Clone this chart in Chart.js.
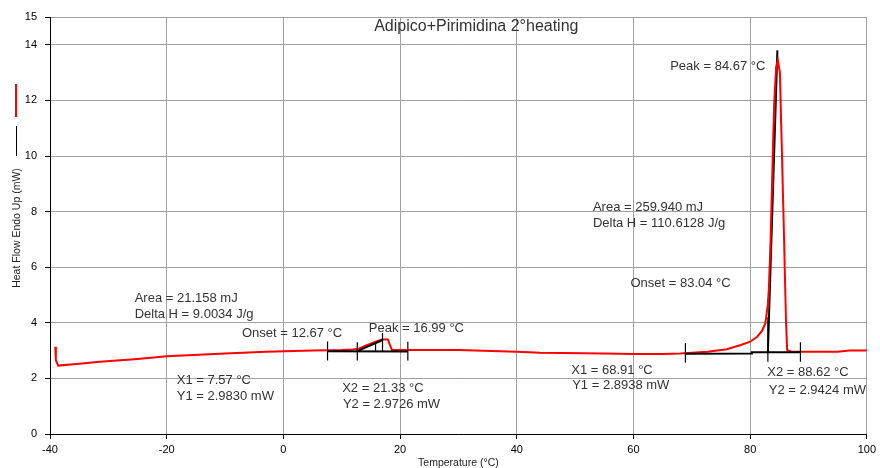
<!DOCTYPE html>
<html>
<head>
<meta charset="utf-8">
<script src="https://cdn.jsdelivr.net/npm/chart.js@4/dist/chart.umd.min.js"></script>
<style>
  body { margin: 0; background: #fff; }
  #wrap { width: 880px; height: 468px; }
</style>
</head>
<body>
<div id="wrap"><canvas id="myChart" width="880" height="468"></canvas></div>
<script>
// Heat flow curve (red), temperature in °C / heat flow in mW
const tempX = [-39.1, -39.0, -38.6, -35, -31.5, -25, -20, -10, -3, 5, 10, 12, 13, 14.1, 15.8, 16.9, 17.9, 18.6, 20, 30, 40, 44, 55, 60, 65, 68, 72.7, 76, 78.4, 80, 81.2, 82, 82.6, 83.0, 83.2, 83.5, 83.8, 84.1, 84.45, 84.75, 85.1, 85.4, 85.7, 85.95, 86.15, 86.35, 87, 95, 97, 100]
const heatY = [3.14, 2.66, 2.46, 2.53, 2.6, 2.7, 2.8, 2.9, 2.96, 3.0, 3.02, 3.04, 3.08, 3.18, 3.32, 3.4, 3.4, 3.02, 3.02, 3.02, 2.96, 2.92, 2.9, 2.88, 2.88, 2.9, 2.96, 3.05, 3.2, 3.32, 3.5, 3.7, 3.98, 4.6, 5.18, 6.98, 9.37, 11.8, 13.2, 13.45, 13.0, 10.5, 8.0, 5.8, 4.0, 3.02, 2.96, 2.96, 3.0, 3.0]

// Analysis lines (black): baselines, limit ticks, onset tangents
const baseSmall = [[7.57, 2.98], [21.33, 2.97]]
const tickSmallX1 = [[7.57, 3.33], [7.57, 2.64]]
const tickSmallX2 = [[21.33, 3.32], [21.33, 2.64]]
const tickSmallOnset = [[12.67, 3.3], [12.67, 2.64]]
const tangentSmall = [[12.67, 2.98], [16.99, 3.38]]
const markSmall1 = [[15.8, 2.98], [15.8, 3.3]]
const markSmallPeak = [[16.99, 2.98], [16.99, 3.63]]

const baseLarge = [[68.91, 2.89], [80.2, 2.9], [80.3, 2.94], [88.62, 2.94]]
const tickLargeX1 = [[68.91, 3.27], [68.91, 2.56]]
const tickLargeX2 = [[88.62, 3.3], [88.62, 2.6]]
const tickLargeOnset = [[83.04, 4.2], [83.04, 2.6]]
const tangentLarge = [[83.04, 2.93], [84.67, 13.8]]

// axis ticks
const xTicks = [-40, -20, 0, 20, 40, 60, 80, 100]
const yTicks = [0, 2, 4, 6, 8, 10, 12, 14, 15]

// text notes: [text, x (°C), y (mW)]
const notes = [
    ['Peak = 84.67 °C', 66.3, 13.21],
    ['Area = 259.940 mJ', 53.05, 8.15],
    ['Delta H = 110.6128 J/g', 53.05, 7.58],
    ['Onset = 83.04 °C', 59.49, 5.42],
    ['Area = 21.158 mJ', -25.49, 4.86],
    ['Delta H = 9.0034 J/g', -25.49, 4.31],
    ['Onset = 12.67 °C', -7.1, 3.62],
    ['Peak = 16.99 °C', 14.64, 3.81],
    ['X1 = 7.57 °C', -18.27, 1.94],
    ['Y1 = 2.9830 mW', -18.27, 1.34],
    ['X2 = 21.33 °C', 10.08, 1.64],
    ['Y2 = 2.9726 mW', 10.2, 1.07],
    ['X1 = 68.91 °C', 49.35, 2.28],
    ['Y1 = 2.8938 mW', 49.5, 1.73],
    ['X2 = 88.62 °C', 82.93, 2.21],
    ['Y2 = 2.9424 mW', 83.2, 1.58]
]
const chartTitle = 'Adipico+Pirimidina 2°heating'
const yTitle = 'Heat Flow Endo Up (mW)'
const xTitle = 'Temperature (°C)'

const FONT = '"Liberation Sans", Arial, sans-serif'

function toPoints(pairs) {
    return pairs.map(p => ({ x: p[0], y: p[1] }))
}

function blackLine(pairs, width, order) {
    return {
        data: toPoints(pairs),
        showLine: true,
        borderColor: '#000',
        borderWidth: width,
        pointRadius: 0,
        tension: 0,
        order: order
    }
}

const curve = tempX.map((t, i) => ({ x: t, y: heatY[i] }))

const datasets = [
    {
        data: curve,
        showLine: true,
        borderColor: '#ff0000',
        borderWidth: 2,
        pointRadius: 0,
        tension: 0,
        order: 1
    },
    blackLine(tangentLarge, 2, 2),
    blackLine(baseSmall, 2, 0),
    blackLine(tickSmallX1, 1.2, 0),
    blackLine(tickSmallX2, 1.2, 0),
    blackLine(tickSmallOnset, 1.2, 0),
    blackLine(tangentSmall, 2, 0),
    blackLine(markSmall1, 1.2, 0),
    blackLine(markSmallPeak, 1.2, 0),
    blackLine(baseLarge, 2, 0),
    blackLine(tickLargeX1, 1.2, 0),
    blackLine(tickLargeX2, 1.2, 0),
    blackLine(tickLargeOnset, 1.2, 0)
]

// titles, side legend marks and notes
const textPlugin = {
    id: 'texts',
    afterDatasetsDraw(chart) {
        const ctx = chart.ctx
        const xs = chart.scales.x
        const ys = chart.scales.y
        ctx.save()

        ctx.fillStyle = '#333'
        ctx.font = '13px ' + FONT
        ctx.textAlign = 'left'
        ctx.textBaseline = 'middle'
        notes.forEach(n => {
            ctx.fillText(n[0], xs.getPixelForValue(n[1]), ys.getPixelForValue(n[2]))
        })

        ctx.font = '16px ' + FONT
        ctx.textAlign = 'center'
        ctx.fillText(chartTitle, xs.getPixelForValue(33.07), ys.getPixelForValue(14.66))

        // x title
        ctx.fillStyle = '#222'
        ctx.font = '10.5px ' + FONT
        ctx.fillText(xTitle, (chart.chartArea.left + chart.chartArea.right) / 2, 463)

        // y title, rotated
        ctx.save()
        ctx.translate(17, 228)
        ctx.rotate(-Math.PI / 2)
        ctx.fillText(yTitle, 0, 0)
        ctx.restore()

        // little series marks beside the y title
        ctx.lineWidth = 2
        ctx.strokeStyle = '#ff0000'
        ctx.beginPath()
        ctx.moveTo(16, 84)
        ctx.lineTo(16, 117)
        ctx.stroke()
        ctx.lineWidth = 1
        ctx.strokeStyle = '#000'
        ctx.beginPath()
        ctx.moveTo(16.5, 126)
        ctx.lineTo(16.5, 156)
        ctx.stroke()

        ctx.restore()
    }
}

const canvas = document.getElementById('myChart')

var config = {
    type: 'scatter',
    data: { datasets: datasets },
    options: {
        responsive: false,
        animation: false,
        layout: { padding: { top: 17, right: 10, left: 0, bottom: 0 } },
        plugins: {
            legend: { display: false },
            tooltip: { enabled: false }
        },
        scales: {
            x: {
                type: 'linear',
                min: -40,
                max: 100,
                afterFit: s => { s.height = 34 },
                afterBuildTicks: s => { s.ticks = xTicks.map(v => ({ value: v })) },
                grid: { color: '#a0a0a0', tickColor: '#000', tickLength: 5, lineWidth: 1 },
                border: { color: '#000', width: 1 },
                ticks: { color: '#000', font: { family: FONT, size: 11 }, padding: 4, maxRotation: 0 }
            },
            y: {
                type: 'linear',
                min: 0,
                max: 15,
                afterFit: s => { s.width = 50 },
                afterBuildTicks: s => { s.ticks = yTicks.map(v => ({ value: v })) },
                grid: { color: '#a0a0a0', tickColor: '#000', tickLength: 5, lineWidth: 1 },
                border: { color: '#000', width: 1 },
                ticks: { color: '#000', font: { family: FONT, size: 11 }, padding: 8 }
            }
        }
    },
    plugins: [textPlugin]
}

var myChart = new Chart(canvas, config)
</script>
</body>
</html>
